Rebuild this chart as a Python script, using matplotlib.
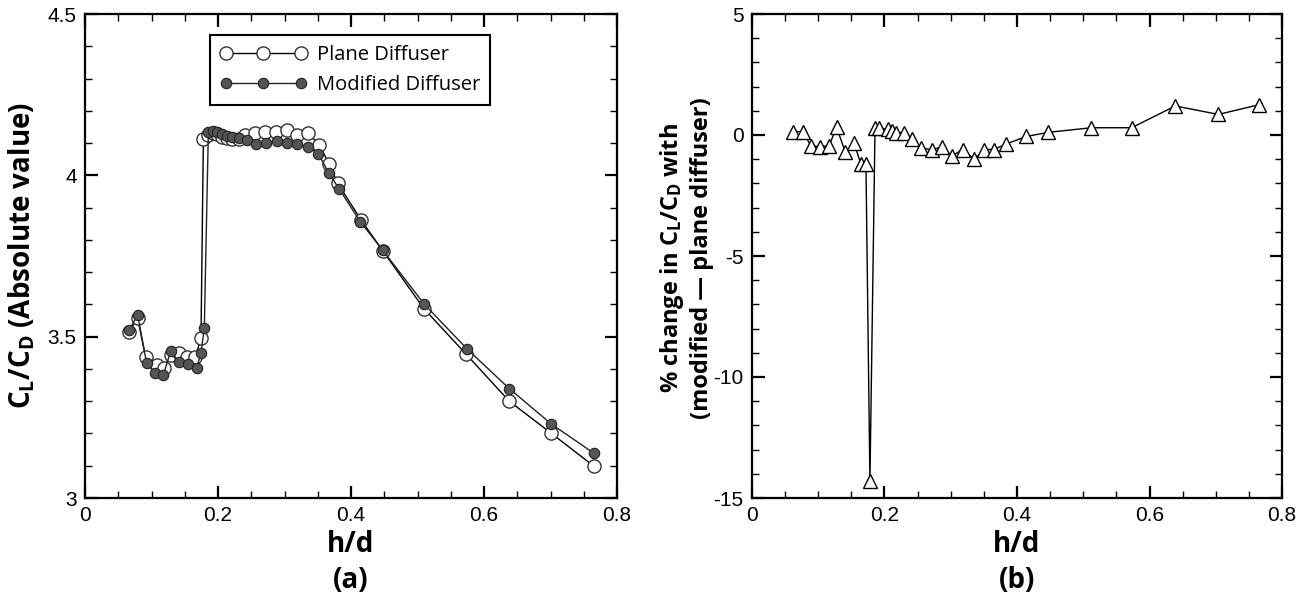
import numpy as np
import matplotlib
matplotlib.use("Agg")
import matplotlib.pyplot as plt
from matplotlib.ticker import MultipleLocator

# -------------------------------
# Data
# -------------------------------
# (a) absolute CL/CD
plane_hd = [0.0661, 0.0792, 0.0912, 0.1078, 0.1188, 0.1288, 0.1419, 0.1540, 0.1660, 0.1744,
            0.1780, 0.1855, 0.1920, 0.1980, 0.2056, 0.2130, 0.2206, 0.2320, 0.2406, 0.2556,
            0.2707, 0.2872, 0.3033, 0.3183, 0.3358, 0.3523, 0.3674, 0.3800, 0.4150, 0.4475,
            0.5095, 0.5730, 0.6380, 0.7015, 0.7650]
plane_clcd = [3.516, 3.557, 3.436, 3.412, 3.402, 3.444, 3.450, 3.436, 3.438, 3.495,
              4.112, 4.125, 4.130, 4.128, 4.120, 4.115, 4.112, 4.112, 4.125, 4.130,
              4.133, 4.135, 4.142, 4.125, 4.131, 4.094, 4.035, 3.975, 3.862, 3.767,
              3.587, 3.446, 3.300, 3.200, 3.099]

mod_hd = [0.0667, 0.0792, 0.0927, 0.1053, 0.1178, 0.1288, 0.1419, 0.1544, 0.1680, 0.1744,
          0.1794, 0.1855, 0.1920, 0.1980, 0.2056, 0.2130, 0.2206, 0.2320, 0.2430, 0.2570,
          0.2720, 0.2880, 0.3035, 0.3185, 0.3360, 0.3510, 0.3670, 0.3825, 0.4140, 0.4477,
          0.5100, 0.5740, 0.6380, 0.7015, 0.7650]
mod_clcd = [3.521, 3.567, 3.417, 3.388, 3.381, 3.456, 3.420, 3.415, 3.402, 3.450,
            3.526, 4.135, 4.138, 4.135, 4.128, 4.122, 4.118, 4.115, 4.110, 4.097,
            4.099, 4.107, 4.101, 4.097, 4.089, 4.066, 4.006, 3.957, 3.856, 3.768,
            3.601, 3.463, 3.339, 3.229, 3.139]

# (b) % change modified vs plane
chg_hd = [0.0624, 0.0775, 0.0886, 0.1026, 0.1162, 0.1278, 0.1409, 0.1540, 0.1645, 0.1720,
          0.1780, 0.1857, 0.1920, 0.2060, 0.2110, 0.2170, 0.2290, 0.2420, 0.2550, 0.2710,
          0.2870, 0.3020, 0.3180, 0.3356, 0.3507, 0.3650, 0.3830, 0.4140, 0.4475, 0.5120,
          0.5730, 0.6390, 0.7040, 0.7650]
chg_pct = [0.14, 0.14, -0.45, -0.48, -0.45, 0.32, -0.72, -0.34, -1.21, -1.21,
           -14.3, 0.28, 0.28, 0.23, 0.18, 0.10, 0.10, -0.18, -0.55, -0.60,
           -0.50, -0.87, -0.60, -1.00, -0.60, -0.60, -0.38, -0.06, 0.11, 0.30,
           0.30, 1.20, 0.85, 1.25]

x_ticks = [0, 0.2, 0.4, 0.6, 0.8]
x_ticklabels = ['0', '0.2', '0.4', '0.6', '0.8']
a_yticks = [3, 3.5, 4, 4.5]
a_yticklabels = ['3', '3.5', '4', '4.5']
b_yticks = [-15, -10, -5, 0, 5]
b_yticklabels = ['-15', '-10', '-5', '0', '5']

plt.rcParams['mathtext.fontset'] = 'custom'
plt.rcParams['mathtext.rm'] = 'Open Sans:bold'
plt.rcParams['mathtext.it'] = 'Open Sans:bold'
plt.rcParams['mathtext.bf'] = 'Open Sans:bold'

tick_font = 'Liberation Sans'
label_font = 'Open Sans'

fig = plt.figure(figsize=(13.12, 6), dpi=100)
ax1 = fig.add_axes([85 / 1312, 102 / 600, 532 / 1312, 484 / 600])
ax2 = fig.add_axes([752 / 1312, 102 / 600, 530 / 1312, 484 / 600])


def style_axis(ax):
    for sp in ax.spines.values():
        sp.set_linewidth(1.6)
    ax.tick_params(which='both', direction='in', top=True, right=True,
                   labelsize=15, pad=6)
    ax.tick_params(which='major', length=9, width=1.6)
    ax.tick_params(which='minor', length=5, width=1.0)
    for lab in ax.get_xticklabels() + ax.get_yticklabels():
        lab.set_family(tick_font)


# -------------------------------
# (a) absolute value
# -------------------------------
ax1.plot(plane_hd, plane_clcd, '-o', color='black', lw=1.0, ms=9.5,
         mfc='white', mec='#333333', mew=1.0, label='Plane Diffuser', zorder=2)
ax1.plot(mod_hd, mod_clcd, '-o', color='#222222', lw=1.0, ms=7.5,
         mfc='#555555', mec='#222222', mew=0.8, label='Modified Diffuser', zorder=3)
ax1.set_xlim(0, 0.8)
ax1.set_ylim(3, 4.5)
ax1.set_xticks(x_ticks, x_ticklabels)
ax1.set_yticks(a_yticks, a_yticklabels)
ax1.xaxis.set_minor_locator(MultipleLocator(0.05))
ax1.yaxis.set_minor_locator(MultipleLocator(0.1))
style_axis(ax1)

leg = ax1.legend(loc='upper left', bbox_to_anchor=(0.235, 0.957), borderaxespad=0,
                 numpoints=3, handlelength=4.3, fancybox=False, framealpha=1,
                 edgecolor='black', prop={'family': label_font, 'size': 14.5},
                 borderpad=0.5, labelspacing=0.5, handletextpad=0.5)
leg.get_frame().set_linewidth(1.5)

# -------------------------------
# (b) percentage change
# -------------------------------
ax2.plot(chg_hd, chg_pct, '-^', color='black', lw=1.0, ms=10,
         mfc='white', mec='black', mew=1.0)
ax2.set_xlim(0, 0.8)
ax2.set_ylim(-15, 5)
ax2.set_xticks(x_ticks, x_ticklabels)
ax2.set_yticks(b_yticks, b_yticklabels)
ax2.xaxis.set_minor_locator(MultipleLocator(0.05))
ax2.yaxis.set_minor_locator(MultipleLocator(1))
style_axis(ax2)

# -------------------------------
# Labels
# -------------------------------
lab_kw = dict(family=label_font, weight='bold', ha='center', va='center')
fig.text(22 / 1312, 1 - 256 / 600, r'C$_\mathrm{L}$/C$_\mathrm{D}$ (Absolute value)',
         rotation=90, fontsize=20, **lab_kw)
fig.text(686 / 1312, 1 - 258 / 600,
         '% change in C$_\\mathrm{L}$/C$_\\mathrm{D}$ with\n(modified \u2014 plane diffuser)',
         rotation=90, fontsize=17, linespacing=1.2, **lab_kw)
for cx, tag in [(351, '(a)'), (1017, '(b)')]:
    fig.text(cx / 1312, 1 - 545 / 600, 'h/d', fontsize=20, **lab_kw)
    fig.text(cx / 1312, 1 - 581 / 600, tag, fontsize=20, **lab_kw)

fig.savefig('out.png', dpi=100)
